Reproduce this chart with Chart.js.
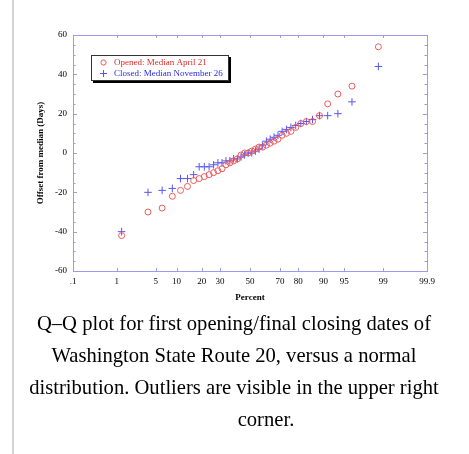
<!DOCTYPE html>
<html>
<head>
<meta charset="utf-8">
<script src="https://cdn.jsdelivr.net/npm/chart.js@4/dist/chart.umd.min.js"></script>
<style>
  html, body { margin: 0; padding: 0; background: #fff; }
  body { width: 469px; height: 454px; position: relative; overflow: hidden; }
  #edge { position: absolute; left: 12px; top: 0; width: 2px; height: 454px; background: #d4d4d4; }
  #wrap { position: absolute; left: 0; top: 0; width: 469px; height: 310px; }
  #caption {
    position: absolute; left: 14px; top: 307px; width: 440px;
    font-family: "Liberation Serif", "Times New Roman", serif;
    font-size: 20.6px; line-height: 32px; color: #000; text-align: center;
  }
  #caption .last { padding-left: 64px; }
</style>
</head>
<body>
<div id="edge"></div>
<div id="wrap"><canvas id="qqChart"></canvas></div>
<div id="caption">
  <div>Q–Q plot for first opening/final closing dates of</div>
  <div>Washington State Route 20, versus a normal</div>
  <div>distribution. Outliers are visible in the upper right</div>
  <div class="last">corner.</div>
</div>
<script>
// plotting positions (percent) for the 40 sorted years
const percentiles = [1.25, 3.75, 6.25, 8.75, 11.25, 13.75, 16.25, 18.75, 21.25, 23.75,
  26.25, 28.75, 31.25, 33.75, 36.25, 38.75, 41.25, 43.75, 46.25, 48.75,
  51.25, 53.75, 56.25, 58.75, 61.25, 63.75, 66.25, 68.75, 71.25, 73.75,
  76.25, 78.75, 81.25, 83.75, 86.25, 88.75, 91.25, 93.75, 96.25, 98.75];

// offsets from the median date, in days, sorted
const openedOffsets = [-42, -30, -28, -22, -19, -17, -14, -13, -12, -11,
  -10, -9, -8, -6, -5, -4, -3, -1, 0, 0,
  1, 2, 3, 3, 4, 5, 6, 7, 9, 10,
  11, 13, 15, 16, 16, 19, 25, 30, 34, 54];
const closedOffsets = [-40, -20, -19, -18, -13, -13, -11, -7, -7, -7,
  -6, -5, -5, -4, -4, -3, -3, -2, -1, 0,
  0, 1, 2, 4, 6, 7, 8, 9, 11, 12,
  13, 14, 15, 16, 17, 19, 19, 20, 26, 44];

const percentTicks = [0.1, 1, 5, 10, 20, 30, 50, 70, 80, 90, 95, 99, 99.9];
const percentLabels = ['.1', '1', '5', '10', '20', '30', '50', '70', '80', '90', '95', '99', '99.9'];
const seriesNames = ['Opened: Median April 21', 'Closed: Median November 26'];

// inverse normal CDF (Acklam's approximation)
function probit(p) {
  const a = [-3.969683028665376e+01, 2.209460984245205e+02, -2.759285104469687e+02, 1.383577518672690e+02, -3.066479806614716e+01, 2.506628277459239e+00];
  const b = [-5.447609879822406e+01, 1.615858368580409e+02, -1.556989798598866e+02, 6.680131188771972e+01, -1.328068155288572e+01];
  const c = [-7.784894002430293e-03, -3.223964580411365e-01, -2.400758277161838e+00, -2.549732539343734e+00, 4.374664141464968e+00, 2.938163982698783e+00];
  const d = [7.784695709041462e-03, 3.224671290700398e-01, 2.445134137142996e+00, 3.754408661907416e+00];
  const pl = 0.02425;
  let q, r;
  if (p < pl) {
    q = Math.sqrt(-2 * Math.log(p));
    return (((((c[0]*q+c[1])*q+c[2])*q+c[3])*q+c[4])*q+c[5]) / ((((d[0]*q+d[1])*q+d[2])*q+d[3])*q+1);
  }
  if (p > 1 - pl) {
    q = Math.sqrt(-2 * Math.log(1 - p));
    return -(((((c[0]*q+c[1])*q+c[2])*q+c[3])*q+c[4])*q+c[5]) / ((((d[0]*q+d[1])*q+d[2])*q+d[3])*q+1);
  }
  q = p - 0.5; r = q * q;
  return (((((a[0]*r+a[1])*r+a[2])*r+a[3])*r+a[4])*r+a[5])*q / (((((b[0]*r+b[1])*r+b[2])*r+b[3])*r+b[4])*r+1);
}

const toPoints = vals => vals.map((v, i) => ({ x: probit(percentiles[i] / 100), y: v }));

const RED = '#ee5a5a';
const BLUE = '#5757ee';
const FRAME = '#9a9aee';
const serif = '"Liberation Serif", "Times New Roman", serif';

// box around the plot with inward tick marks
const framePlugin = {
  id: 'frame',
  beforeDatasetsDraw(chart) {
    const { ctx, chartArea: a, scales } = chart;
    ctx.save();
    ctx.strokeStyle = FRAME;
    ctx.lineWidth = 1;
    ctx.strokeRect(a.left + 0.5, a.top + 0.5, a.right - a.left, a.bottom - a.top);
    ctx.beginPath();
    percentTicks.forEach(p => {
      const x = Math.round(scales.x.getPixelForValue(probit(p / 100))) + 0.5;
      ctx.moveTo(x, a.bottom); ctx.lineTo(x, a.bottom - 3);
      ctx.moveTo(x, a.top); ctx.lineTo(x, a.top + 3);
    });
    for (let v = -60; v <= 60; v += 5) {
      const y = Math.round(scales.y.getPixelForValue(v)) + 0.5;
      const len = v % 20 === 0 ? 4 : 2.5;
      ctx.moveTo(a.left, y); ctx.lineTo(a.left + len, y);
      ctx.moveTo(a.right, y); ctx.lineTo(a.right - len, y);
    }
    ctx.stroke();
    ctx.restore();
  }
};

// legend box with drop shadow
const legendPlugin = {
  id: 'boxLegend',
  afterDraw(chart) {
    const { ctx } = chart;
    const x = 91.5, y = 55.5, w = 137, h = 25;
    ctx.save();
    ctx.fillStyle = '#000';
    ctx.fillRect(x + 1.5, y + 1.5, w + 1, h + 1);
    ctx.fillStyle = '#fff';
    ctx.fillRect(x, y, w, h);
    ctx.strokeStyle = '#333';
    ctx.lineWidth = 1;
    ctx.strokeRect(x, y, w, h);
    ctx.font = '9px ' + serif;
    ctx.textBaseline = 'middle';
    // circle marker
    ctx.strokeStyle = RED;
    ctx.beginPath(); ctx.arc(103.5, 62.5, 2.6, 0, Math.PI * 2); ctx.stroke();
    ctx.fillStyle = '#e02a2a';
    ctx.fillText(seriesNames[0], 114, 62.5);
    // cross marker
    ctx.strokeStyle = BLUE;
    ctx.beginPath();
    ctx.moveTo(100, 73.5); ctx.lineTo(107, 73.5);
    ctx.moveTo(103.5, 70); ctx.lineTo(103.5, 77);
    ctx.stroke();
    ctx.fillStyle = '#2a2ae0';
    ctx.fillText(seriesNames[1], 114, 73.5);
    ctx.restore();
  }
};

const qqCtx = document.getElementById('qqChart').getContext('2d');
new Chart(qqCtx, {
  type: 'scatter',
  data: {
    datasets: [{
      label: seriesNames[0],
      data: toPoints(openedOffsets),
      pointStyle: 'circle',
      pointRadius: 3,
      borderColor: RED,
      backgroundColor: 'rgba(0,0,0,0)',
      borderWidth: 1
    }, {
      label: seriesNames[1],
      data: toPoints(closedOffsets),
      pointStyle: 'cross',
      pointRadius: 3.8,
      borderColor: BLUE,
      backgroundColor: BLUE,
      borderWidth: 1
    }]
  },
  options: {
    responsive: true,
    maintainAspectRatio: false,
    animation: false,
    layout: { padding: { top: 35, right: 42, left: 0, bottom: 0 } },
    plugins: {
      legend: { display: false },
      tooltip: { enabled: false }
    },
    scales: {
      x: {
        type: 'linear',
        min: probit(0.001),
        max: probit(0.999),
        afterBuildTicks: s => { s.ticks = percentTicks.map(p => ({ value: probit(p / 100) })); },
        afterFit: s => { s.height = 39; },
        grid: { display: false, drawTicks: false },
        border: { display: false },
        ticks: {
          autoSkip: false, maxRotation: 0, padding: 5,
          color: '#000', font: { family: serif, size: 9 },
          callback: (v, i) => percentLabels[i]
        },
        title: {
          display: true, text: 'Percent', color: '#000',
          font: { family: serif, size: 9, weight: 'bold' },
          padding: { top: 0, bottom: 7 }
        }
      },
      y: {
        min: -60,
        max: 60,
        afterFit: s => { s.width = 73; },
        grid: { display: false, drawTicks: false },
        border: { display: false },
        ticks: {
          stepSize: 20, padding: 6,
          color: '#000', font: { family: serif, size: 9 }
        },
        title: {
          display: true, text: 'Offset from median (Days)', color: '#000',
          font: { family: serif, size: 9, weight: 'bold' },
          padding: { top: 35, bottom: 0 }
        }
      }
    }
  },
  plugins: [framePlugin, legendPlugin]
});
</script>
</body>
</html>
